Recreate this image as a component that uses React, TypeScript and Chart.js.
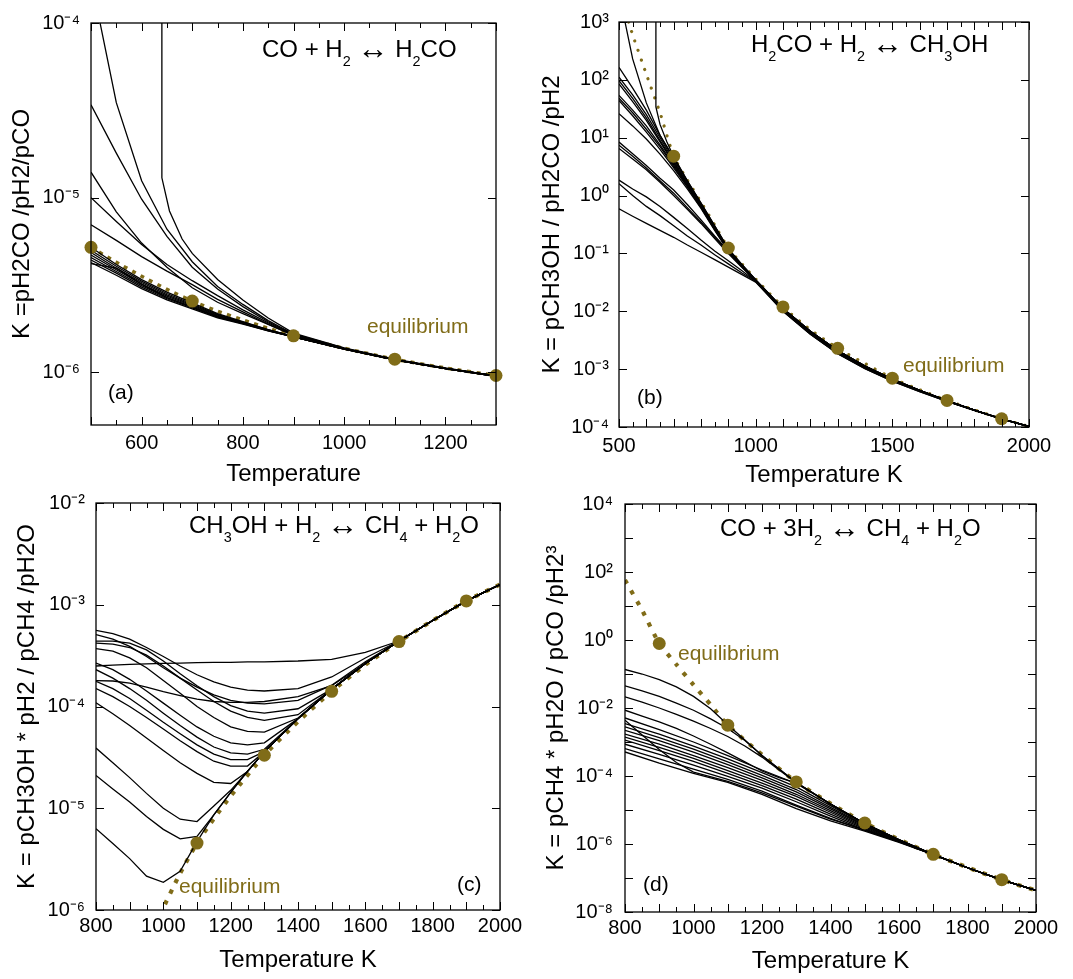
import React, { useEffect, useRef } from 'react';
import { Chart, registerables } from 'chart.js';

Chart.register(...registerables);

const FONT = "'Liberation Sans', Arial, Helvetica, sans-serif";
const OLIVE = '#806c18';

// ---------------- Panel (a): CO + H2 <-> H2CO ----------------
const aT = [500, 550, 600, 650, 700, 750, 800, 850, 900, 1000, 1100, 1200, 1300];
const aEqK = [5.2e-6, 4.27e-6, 3.55e-6, 2.99e-6, 2.56e-6, 2.24e-6, 2.0e-6, 1.79e-6, 1.62e-6, 1.375e-6, 1.19e-6, 1.06e-6, 0.96e-6];
const aDotT = [500, 700, 900, 1100, 1300];
const aDotK = [5.2e-6, 2.56e-6, 1.62e-6, 1.19e-6, 0.96e-6];
const aVT = [640, 640, 655, 680, 700, 750, 800, 850, 900, 1000, 1100, 1200, 1300];
const aVK = [3e-4, 1.3e-5, 8.4e-6, 5.8e-6, 4.8e-6, 3.4e-6, 2.6e-6, 2.05e-6, 1.68e-6, 1.38e-6, 1.19e-6, 1.06e-6, 0.955e-6];
const aK1 = [1.8e-4, 3.5e-5, 1.25e-5, 6.6e-6, 4.3e-6, 3.1e-6, 2.45e-6, 1.98e-6, 1.66e-6, 1.375e-6, 1.185e-6, 1.055e-6, 0.955e-6];
const aK2 = [3.4e-5, 1.8e-5, 9.8e-6, 6.0e-6, 4.0e-6, 3.0e-6, 2.38e-6, 1.95e-6, 1.65e-6, 1.37e-6, 1.185e-6, 1.055e-6, 0.955e-6];
const aK3 = [1.4e-5, 8.3e-6, 5.5e-6, 4.0e-6, 3.05e-6, 2.52e-6, 2.17e-6, 1.88e-6, 1.63e-6, 1.37e-6, 1.185e-6, 1.055e-6, 0.955e-6];
const aK4 = [1.0e-5, 7.3e-6, 5.4e-6, 4.15e-6, 3.35e-6, 2.75e-6, 2.28e-6, 1.92e-6, 1.64e-6, 1.37e-6, 1.185e-6, 1.055e-6, 0.955e-6];
const aK5 = [7.0e-6, 5.7e-6, 4.6e-6, 3.8e-6, 3.18e-6, 2.62e-6, 2.22e-6, 1.89e-6, 1.63e-6, 1.37e-6, 1.185e-6, 1.055e-6, 0.955e-6];
const aC1 = [5.2e-6, 4.15e-6, 3.4e-6, 2.88e-6, 2.5e-6, 2.17e-6, 1.95e-6, 1.76e-6, 1.61e-6, 1.37e-6, 1.185e-6, 1.055e-6, 0.955e-6];
const aC2 = [5.0e-6, 4.05e-6, 3.33e-6, 2.83e-6, 2.46e-6, 2.15e-6, 1.94e-6, 1.75e-6, 1.61e-6, 1.37e-6, 1.185e-6, 1.055e-6, 0.955e-6];
const aC3 = [4.85e-6, 3.95e-6, 3.27e-6, 2.78e-6, 2.43e-6, 2.13e-6, 1.93e-6, 1.75e-6, 1.6e-6, 1.365e-6, 1.18e-6, 1.05e-6, 0.95e-6];
const aC4 = [4.7e-6, 3.87e-6, 3.2e-6, 2.73e-6, 2.4e-6, 2.11e-6, 1.92e-6, 1.74e-6, 1.6e-6, 1.365e-6, 1.18e-6, 1.05e-6, 0.95e-6];
const aC5 = [4.55e-6, 3.78e-6, 3.14e-6, 2.68e-6, 2.37e-6, 2.09e-6, 1.91e-6, 1.74e-6, 1.6e-6, 1.36e-6, 1.18e-6, 1.05e-6, 0.95e-6];
const aC6 = [4.4e-6, 3.7e-6, 3.08e-6, 2.64e-6, 2.34e-6, 2.07e-6, 1.9e-6, 1.73e-6, 1.6e-6, 1.36e-6, 1.18e-6, 1.05e-6, 0.95e-6];
const aC7 = [4.25e-6, 3.6e-6, 3.02e-6, 2.6e-6, 2.31e-6, 2.05e-6, 1.89e-6, 1.73e-6, 1.6e-6, 1.36e-6, 1.18e-6, 1.05e-6, 0.95e-6];
const aC8 = [4.2e-6, 3.95e-6, 3.2e-6, 2.68e-6, 2.36e-6, 2.08e-6, 1.91e-6, 1.74e-6, 1.6e-6, 1.36e-6, 1.18e-6, 1.05e-6, 0.95e-6];
const aXLabels = [600, 800, 1000, 1200];
const aYLabels = [1e-6, 1e-5, 1e-4];

// ---------------- Panel (b): H2CO + H2 <-> CH3OH ----------------
const bT = [500, 550, 600, 650, 700, 750, 800, 850, 900, 950, 1000, 1100, 1200, 1300, 1400, 1500, 1600, 1700, 1800, 1900, 2000];
const bEqT = [535, 550, 600, 650, 700, 750, 800, 850, 900, 1000, 1100, 1200, 1300, 1400, 1500, 1600, 1700, 1800, 1900, 2000];
const bEqK = [1000, 600, 125, 27, 4.8, 1.85, 0.77, 0.31, 0.124, 0.036, 0.0119, 4.8e-3, 2.29e-3, 1.25e-3, 6.97e-4, 4.4e-4, 2.88e-4, 1.98e-4, 1.39e-4, 1.02e-4];
const bDotT = [700, 900, 1100, 1300, 1500, 1700, 1900];
const bDotK = [4.8, 0.124, 0.0119, 2.29e-3, 6.97e-4, 2.88e-4, 1.39e-4];
const bST = [515, 522, 550, 600, 650, 700, 750, 800, 850, 900, 950, 1000, 1100, 1200, 1300, 1400, 1500, 1600, 1700, 1800, 1900, 2000];
const bSK = [2000, 1000, 230, 40, 11, 4.6, 1.8, 0.74, 0.3, 0.12, 0.064, 0.035, 0.0112, 4.5e-3, 2.1e-3, 1.13e-3, 6.7e-4, 4.3e-4, 2.85e-4, 1.96e-4, 1.385e-4, 1.02e-4];
const bVT = [635, 635, 650, 675, 700, 750, 800, 850, 900, 950, 1000, 1100, 1200, 1300, 1400, 1500, 1600, 1700, 1800, 1900, 2000];
const bVK = [5000, 34, 17, 8.5, 4.7, 1.8, 0.74, 0.3, 0.12, 0.064, 0.035, 0.0112, 4.5e-3, 2.1e-3, 1.13e-3, 6.7e-4, 4.3e-4, 2.85e-4, 1.96e-4, 1.385e-4, 1.02e-4];
const bG1 = [164, 72, 30, 11, 4.3, 1.75, 0.72, 0.29, 0.118, 0.063, 0.034, 0.0112, 4.5e-3, 2.1e-3, 1.13e-3, 6.7e-4, 4.3e-4, 2.85e-4, 1.96e-4, 1.385e-4, 1.02e-4];
const bG2 = [111, 55, 25, 10, 4.0, 1.65, 0.7, 0.28, 0.116, 0.062, 0.034, 0.0108, 4.4e-3, 2.05e-3, 1.1e-3, 6.5e-4, 4.25e-4, 2.82e-4, 1.95e-4, 1.38e-4, 1.02e-4];
const bG3 = [97, 48, 22, 9, 3.8, 1.6, 0.68, 0.28, 0.115, 0.062, 0.034, 0.0112, 4.5e-3, 2.1e-3, 1.13e-3, 6.7e-4, 4.3e-4, 2.85e-4, 1.96e-4, 1.385e-4, 1.02e-4];
const bG4 = [85, 42, 20, 8.5, 3.6, 1.55, 0.66, 0.27, 0.114, 0.061, 0.034, 0.0108, 4.4e-3, 2.05e-3, 1.1e-3, 6.5e-4, 4.25e-4, 2.82e-4, 1.95e-4, 1.38e-4, 1.02e-4];
const bG5 = [54, 30, 16, 7.5, 3.4, 1.5, 0.64, 0.27, 0.113, 0.061, 0.033, 0.0112, 4.5e-3, 2.1e-3, 1.13e-3, 6.7e-4, 4.3e-4, 2.85e-4, 1.96e-4, 1.385e-4, 1.02e-4];
const bG6 = [48, 27, 14, 7, 3.2, 1.45, 0.63, 0.26, 0.112, 0.06, 0.033, 0.0108, 4.4e-3, 2.05e-3, 1.1e-3, 6.5e-4, 4.25e-4, 2.82e-4, 1.95e-4, 1.38e-4, 1.02e-4];
const bG7 = [44, 24, 12.5, 6.3, 3.0, 1.4, 0.62, 0.26, 0.111, 0.06, 0.033, 0.0112, 4.5e-3, 2.1e-3, 1.13e-3, 6.7e-4, 4.3e-4, 2.85e-4, 1.96e-4, 1.385e-4, 1.02e-4];
const bG8 = [26, 16, 9.5, 5.2, 2.7, 1.3, 0.6, 0.25, 0.11, 0.06, 0.033, 0.0108, 4.4e-3, 2.05e-3, 1.1e-3, 6.5e-4, 4.25e-4, 2.82e-4, 1.95e-4, 1.38e-4, 1.02e-4];
const bH1 = [8.4, 5.3, 3.3, 2.0, 1.25, 0.7, 0.38, 0.2, 0.11, 0.06, 0.034, 0.0108, 4.4e-3, 2.05e-3, 1.1e-3, 6.5e-4, 4.25e-4, 2.82e-4, 1.95e-4, 1.38e-4, 1.02e-4];
const bH2 = [7.4, 4.8, 3.0, 1.8, 1.1, 0.62, 0.35, 0.19, 0.105, 0.058, 0.034, 0.0104, 4.2e-3, 1.95e-3, 1.06e-3, 6.35e-4, 4.2e-4, 2.8e-4, 1.94e-4, 1.375e-4, 1.02e-4];
const bH3 = [6.5, 4.3, 2.8, 1.7, 1.0, 0.58, 0.33, 0.18, 0.1, 0.057, 0.034, 0.0108, 4.4e-3, 2.05e-3, 1.1e-3, 6.5e-4, 4.25e-4, 2.82e-4, 1.95e-4, 1.38e-4, 1.02e-4];
const bL1 = [1.85, 1.3, 0.95, 0.65, 0.42, 0.27, 0.17, 0.11, 0.075, 0.05, 0.033, 0.01, 4.0e-3, 1.85e-3, 1.02e-3, 6.2e-4, 4.1e-4, 2.78e-4, 1.93e-4, 1.37e-4, 1.02e-4];
const bL2 = [1.6, 1.0, 0.65, 0.45, 0.3, 0.2, 0.14, 0.095, 0.066, 0.046, 0.033, 0.0104, 4.2e-3, 1.95e-3, 1.06e-3, 6.35e-4, 4.2e-4, 2.8e-4, 1.94e-4, 1.375e-4, 1.02e-4];
const bL3 = [0.59, 0.44, 0.33, 0.25, 0.19, 0.14, 0.105, 0.078, 0.058, 0.043, 0.032, 0.01, 4.0e-3, 1.85e-3, 1.02e-3, 6.2e-4, 4.1e-4, 2.78e-4, 1.93e-4, 1.37e-4, 1.02e-4];
const bXLabels = [500, 1000, 1500, 2000];
const bYLabels = [1e-4, 1e-3, 1e-2, 1e-1, 1, 10, 100, 1000];

// ---------------- Panel (c): CH3OH + H2 <-> CH4 + H2O ----------------
const cT = [800, 850, 900, 950, 1000, 1050, 1100, 1150, 1200, 1250, 1300, 1400, 1500, 1600, 1700, 1800, 1900, 2000];
const cEqT = [990, 1050, 1100, 1150, 1200, 1300, 1400, 1500, 1600, 1700, 1800, 1900, 2000];
const cEqK = [9.0e-7, 2.3e-6, 4.55e-6, 7.9e-6, 1.32e-5, 3.32e-5, 7.1e-5, 1.41e-4, 2.57e-4, 4.35e-4, 7.0e-4, 1.09e-3, 1.58e-3];
const cDotT = [1100, 1300, 1500, 1700, 1900];
const cDotK = [4.55e-6, 3.32e-5, 1.41e-4, 4.35e-4, 1.09e-3];
const cK1 = [2.5e-4, 2.55e-4, 2.6e-4, 2.62e-4, 2.65e-4, 2.67e-4, 2.7e-4, 2.71e-4, 2.72e-4, 2.74e-4, 2.75e-4, 2.8e-4, 2.9e-4, 3.4e-4, 4.4e-4, 7.0e-4, 1.09e-3, 1.58e-3];
const cK2 = [5.6e-4, 5.2e-4, 4.6e-4, 3.8e-4, 3.1e-4, 2.5e-4, 2.05e-4, 1.75e-4, 1.55e-4, 1.45e-4, 1.42e-4, 1.5e-4, 1.95e-4, 3.0e-4, 4.4e-4, 7.0e-4, 1.09e-3, 1.58e-3];
const cK3 = [5.1e-4, 4.6e-4, 3.9e-4, 3.1e-4, 2.4e-4, 1.9e-4, 1.55e-4, 1.3e-4, 1.15e-4, 1.08e-4, 1.06e-4, 1.15e-4, 1.62e-4, 2.75e-4, 4.4e-4, 7.0e-4, 1.09e-3, 1.58e-3];
const cK4 = [4.4e-4, 4.4e-4, 4.2e-4, 3.6e-4, 2.8e-4, 2.1e-4, 1.6e-4, 1.25e-4, 1.02e-4, 9.0e-5, 8.6e-5, 9.5e-5, 1.48e-4, 2.65e-4, 4.4e-4, 7.0e-4, 1.09e-3, 1.58e-3];
const cK5 = [4.2e-4, 4.1e-4, 3.8e-4, 3.2e-4, 2.5e-4, 1.9e-4, 1.45e-4, 1.12e-4, 9.0e-5, 7.8e-5, 7.3e-5, 8.3e-5, 1.48e-4, 2.65e-4, 4.4e-4, 7.0e-4, 1.09e-3, 1.58e-3];
const cK6 = [3.7e-4, 3.5e-4, 3.0e-4, 2.4e-4, 1.8e-4, 1.35e-4, 1.0e-4, 7.8e-5, 6.3e-5, 5.7e-5, 5.6e-5, 7.7e-5, 1.48e-4, 2.65e-4, 4.4e-4, 7.0e-4, 1.09e-3, 1.58e-3];
const cK7 = [2.67e-4, 2.3e-4, 1.85e-4, 1.42e-4, 1.08e-4, 8.2e-5, 6.3e-5, 5.1e-5, 4.4e-5, 4.2e-5, 4.4e-5, 7.6e-5, 1.48e-4, 2.65e-4, 4.4e-4, 7.0e-4, 1.09e-3, 1.58e-3];
const cK8 = [2.3e-4, 1.9e-4, 1.5e-4, 1.15e-4, 8.6e-5, 6.5e-5, 5.0e-5, 4.0e-5, 3.5e-5, 3.4e-5, 3.8e-5, 7.6e-5, 1.48e-4, 2.65e-4, 4.4e-4, 7.0e-4, 1.09e-3, 1.58e-3];
const cK9 = [1.8e-4, 1.78e-4, 1.7e-4, 1.55e-4, 1.4e-4, 1.28e-4, 1.18e-4, 1.12e-4, 1.1e-4, 1.1e-4, 1.12e-4, 1.25e-4, 1.6e-4, 2.65e-4, 4.4e-4, 7.0e-4, 1.09e-3, 1.58e-3];
const cK10 = [1.77e-4, 1.5e-4, 1.2e-4, 9.2e-5, 7.0e-5, 5.4e-5, 4.2e-5, 3.4e-5, 3.0e-5, 3.0e-5, 3.6e-5, 7.6e-5, 1.48e-4, 2.65e-4, 4.4e-4, 7.0e-4, 1.09e-3, 1.58e-3];
const cK11 = [1.5e-4, 1.25e-4, 1.0e-4, 7.8e-5, 6.0e-5, 4.6e-5, 3.6e-5, 2.9e-5, 2.6e-5, 2.6e-5, 3.6e-5, 7.6e-5, 1.48e-4, 2.65e-4, 4.4e-4, 7.0e-4, 1.09e-3, 1.58e-3];
const cK12 = [1.09e-4, 8.5e-5, 6.5e-5, 4.9e-5, 3.7e-5, 2.8e-5, 2.2e-5, 1.8e-5, 1.75e-5, 2.3e-5, 3.6e-5, 7.6e-5, 1.48e-4, 2.65e-4, 4.4e-4, 7.0e-4, 1.09e-3, 1.58e-3];
const cK13 = [3.9e-5, 2.8e-5, 2.0e-5, 1.4e-5, 1.0e-5, 7.8e-6, 7.4e-6, 1.05e-5, 1.5e-5, 2.3e-5, 3.6e-5, 7.6e-5, 1.48e-4, 2.65e-4, 4.4e-4, 7.0e-4, 1.09e-3, 1.58e-3];
const cK14 = [2.1e-5, 1.55e-5, 1.15e-5, 8.3e-6, 6.2e-6, 5.0e-6, 5.3e-6, 8.6e-6, 1.43e-5, 2.3e-5, 3.6e-5, 7.6e-5, 1.48e-4, 2.65e-4, 4.4e-4, 7.0e-4, 1.09e-3, 1.58e-3];
const cK15 = [6.3e-6, 4.5e-6, 3.2e-6, 2.15e-6, 1.87e-6, 2.4e-6, 4.7e-6, 8.6e-6, 1.43e-5, 2.3e-5, 3.6e-5, 7.6e-5, 1.48e-4, 2.65e-4, 4.4e-4, 7.0e-4, 1.09e-3, 1.58e-3];
const cXLabels = [800, 1000, 1200, 1400, 1600, 1800, 2000];
const cYLabels = [1e-6, 1e-5, 1e-4, 1e-3, 1e-2];

// ---------------- Panel (d): CO + 3H2 <-> CH4 + H2O ----------------
const dEqT = [800, 850, 900, 950, 1000, 1050, 1100, 1200, 1300, 1400, 1500, 1600, 1700, 1800, 1900, 2000];
const dEqK = [58, 7.5, 0.79, 0.19, 0.048, 0.0125, 3.12e-3, 4.2e-4, 6.7e-5, 1.55e-5, 4.15e-6, 1.35e-6, 4.96e-7, 2.04e-7, 8.9e-8, 4.3e-8];
const dDotT = [900, 1100, 1300, 1500, 1700, 1900];
const dDotK = [0.79, 3.12e-3, 6.7e-5, 4.15e-6, 4.96e-7, 8.9e-8];
const dT1 = [800, 850, 900, 950, 1000, 1050, 1100, 1150, 1200, 1250, 1300, 1400, 1500, 1600, 1700, 1800, 1900, 2000];
const dK1 = [0.136, 0.1, 0.068, 0.042, 0.022, 9.5e-3, 3.2e-3, 1.15e-3, 4.0e-4, 1.6e-4, 6.4e-5, 1.5e-5, 4.0e-6, 1.33e-6, 4.9e-7, 2.0e-7, 8.8e-8, 4.3e-8];
const dK2 = [0.045, 0.032, 0.022, 0.014, 8.6e-3, 4.8e-3, 2.5e-3, 1.1e-3, 4.0e-4, 1.6e-4, 6.4e-5, 1.5e-5, 4.0e-6, 1.33e-6, 4.9e-7, 2.0e-7, 8.8e-8, 4.3e-8];
const dK3 = [0.0213, 0.015, 0.01, 6.5e-3, 4.1e-3, 2.5e-3, 1.45e-3, 7.6e-4, 3.6e-4, 1.5e-4, 6.4e-5, 1.5e-5, 4.0e-6, 1.33e-6, 4.9e-7, 2.0e-7, 8.8e-8, 4.3e-8];
const dK4 = [8.6e-3, 5.8e-3, 3.9e-3, 2.5e-3, 1.5e-3, 8.6e-4, 4.8e-4, 2.6e-4, 1.4e-4, 9.0e-5, 6.2e-5, 1.5e-5, 4.0e-6, 1.33e-6, 4.9e-7, 2.0e-7, 8.8e-8, 4.3e-8];
const dT2 = [800, 900, 1000, 1100, 1200, 1300, 1400, 1500, 1600, 1700, 1800, 1900, 2000];
const dK5 = [5.1e-3, 2.3e-3, 1.0e-3, 4.0e-4, 1.5e-4, 6.0e-5, 1.5e-5, 4.0e-6, 1.35e-6, 5.0e-7, 2.0e-7, 8.8e-8, 4.3e-8];
const dK7 = [3.5e-3, 1.7e-3, 7.6e-4, 3.2e-4, 1.25e-4, 4.8e-5, 1.35e-5, 3.8e-6, 1.33e-6, 5.0e-7, 2.0e-7, 8.8e-8, 4.3e-8];
const dK8 = [2.8e-3, 1.35e-3, 6.2e-4, 2.6e-4, 1.05e-4, 4.0e-5, 1.2e-5, 3.6e-6, 1.3e-6, 5.0e-7, 2.0e-7, 8.8e-8, 4.3e-8];
const dK9 = [2.2e-3, 1.1e-3, 5.0e-4, 2.15e-4, 8.8e-5, 3.4e-5, 1.08e-5, 3.4e-6, 1.28e-6, 5.0e-7, 2.0e-7, 8.8e-8, 4.3e-8];
const dK10 = [1.7e-3, 8.6e-4, 4.0e-4, 1.75e-4, 7.4e-5, 2.9e-5, 9.6e-6, 3.2e-6, 1.25e-6, 5.0e-7, 2.0e-7, 8.8e-8, 4.3e-8];
const dK11 = [1.4e-3, 7.0e-4, 3.3e-4, 1.45e-4, 6.2e-5, 2.5e-5, 8.6e-6, 3.0e-6, 1.22e-6, 5.0e-7, 2.0e-7, 8.8e-8, 4.3e-8];
const dK12 = [1.13e-3, 5.6e-4, 2.7e-4, 1.2e-4, 5.2e-5, 2.1e-5, 7.6e-6, 2.8e-6, 1.2e-6, 4.9e-7, 2.0e-7, 8.8e-8, 4.3e-8];
const dK13 = [8.6e-4, 4.3e-4, 2.1e-4, 9.8e-5, 4.4e-5, 1.75e-5, 6.6e-6, 2.6e-6, 1.17e-6, 4.9e-7, 2.0e-7, 8.8e-8, 4.3e-8];
const dK14 = [6.4e-4, 3.2e-4, 1.6e-4, 8.0e-5, 3.6e-5, 1.4e-5, 5.7e-6, 2.5e-6, 1.15e-6, 4.9e-7, 2.0e-7, 8.8e-8, 4.3e-8];
const dK15 = [5.1e-4, 2.4e-4, 1.2e-4, 6.5e-5, 2.9e-5, 1.1e-5, 4.8e-6, 2.4e-6, 1.12e-6, 4.9e-7, 2.0e-7, 8.8e-8, 4.3e-8];
const dT3 = [800, 850, 900, 950, 1000, 1100, 1200, 1300, 1400, 1500, 1600, 1700, 1800, 1900, 2000];
const dK6 = [4.4e-3, 1.6e-3, 6.0e-4, 2.5e-4, 1.3e-4, 7.0e-5, 3.2e-5, 1.3e-5, 5.4e-6, 2.6e-6, 1.18e-6, 4.9e-7, 2.0e-7, 8.8e-8, 4.3e-8];
const dXLabels = [800, 1000, 1200, 1400, 1600, 1800, 2000];
const dYLabels = [1e-8, 1e-6, 1e-4, 1e-2, 1, 100, 1e4];
const dYMarks = [1e-8, 1e-7, 1e-6, 1e-5, 1e-4, 1e-3, 1e-2, 1e-1, 1, 10, 100, 1000, 1e4];

// ---------------- helpers ----------------
type Series = { x: number[]; y: number[] };
const S = (x: number[], y: number[]): Series => ({ x, y });

const SUP: Record<string, string> = { '-': '\u207B', '0': '\u2070', '1': '\u00B9', '2': '\u00B2', '3': '\u00B3', '4': '\u2074', '5': '\u2075', '6': '\u2076', '7': '\u2077', '8': '\u2078', '9': '\u2079' };
const pow10Label = (v: number) => {
  const e = Math.round(Math.log10(v));
  return '10' + String(e).split('').map((c) => SUP[c]).join('');
};

interface Spec {
  left: number; top: number; w: number; h: number;
  area: { l: number; t: number; r: number; b: number };
  xMin: number; xMax: number; xLabels: number[]; xMinor: number; xMajor: number; xPad: number;
  yMin: number; yMax: number; yLabels: number[]; yMarks: number[]; yPad: number;
  xTitle: string; yTitle: string; xTitlePad: number; yTitlePad: number;
  lines: Series[]; eq: Series; dots: Series;
  eqWidth: number; eqDash: number[]; eqCap: 'butt' | 'round';
  reaction: string; reactionAt: [number, number];
  eqLabelAt: [number, number]; letter: string; letterAt: [number, number];
}

const PANELS: Spec[] = [
  {
    left: 0, top: 0, w: 540, h: 500, area: { l: 91, t: 16, r: 496, b: 425 },
    xMin: 500, xMax: 1300, xLabels: aXLabels, xMinor: 50, xMajor: 100, xPad: 6,
    yMin: 5e-7, yMax: 1e-4, yLabels: aYLabels, yMarks: aYLabels, yPad: 11,
    xTitle: 'Temperature', yTitle: 'K =pH2CO /pH2/pCO', xTitlePad: 14, yTitlePad: 10.5,
    lines: [S(aVT, aVK), S(aT, aK1), S(aT, aK2), S(aT, aK3), S(aT, aK4), S(aT, aK5), S(aT, aC1), S(aT, aC2), S(aT, aC3), S(aT, aC4), S(aT, aC5), S(aT, aC6), S(aT, aC7), S(aT, aC8)],
    eq: S(aT, aEqK), dots: S(aDotT, aDotK), eqWidth: 3.5, eqDash: [4, 5.5], eqCap: 'butt',
    reaction: 'CO + H_2 \u2194 H_2CO', reactionAt: [262, 57], eqLabelAt: [367, 333], letter: '(a)', letterAt: [108, 393],
  },
  {
    left: 540, top: 0, w: 533, h: 500, area: { l: 79, t: 19, r: 489, b: 427 },
    xMin: 500, xMax: 2000, xLabels: bXLabels, xMinor: 50, xMajor: 100, xPad: 7.5,
    yMin: 1e-4, yMax: 1e3, yLabels: bYLabels, yMarks: bYLabels, yPad: 10,
    xTitle: 'Temperature K', yTitle: 'K = pCH3OH / pH2CO /pH2', xTitlePad: 12.5, yTitlePad: 0,
    lines: [S(bST, bSK), S(bVT, bVK), S(bT, bG1), S(bT, bG2), S(bT, bG3), S(bT, bG4), S(bT, bG5), S(bT, bG6), S(bT, bG7), S(bT, bG8), S(bT, bH1), S(bT, bH2), S(bT, bH3), S(bT, bL1), S(bT, bL2), S(bT, bL3)],
    eq: S(bEqT, bEqK), dots: S(bDotT, bDotK), eqWidth: 3.2, eqDash: [0.01, 10], eqCap: 'round',
    reaction: 'H_2CO + H_2 \u2194 CH_3OH', reactionAt: [211, 52], eqLabelAt: [363, 372], letter: '(b)', letterAt: [97, 398],
  },
  {
    left: 0, top: 480, w: 540, h: 499, area: { l: 96, t: 21, r: 500, b: 430 },
    xMin: 800, xMax: 2000, xLabels: cXLabels, xMinor: 50, xMajor: 100, xPad: 4,
    yMin: 1e-6, yMax: 1e-2, yLabels: cYLabels, yMarks: cYLabels, yPad: 11,
    xTitle: 'Temperature K', yTitle: 'K = pCH3OH * pH2 / pCH4 /pH2O', xTitlePad: 7, yTitlePad: 15,
    lines: [S(cT, cK1), S(cT, cK2), S(cT, cK3), S(cT, cK4), S(cT, cK5), S(cT, cK6), S(cT, cK7), S(cT, cK8), S(cT, cK9), S(cT, cK10), S(cT, cK11), S(cT, cK12), S(cT, cK13), S(cT, cK14), S(cT, cK15)],
    eq: S(cEqT, cEqK), dots: S(cDotT, cDotK), eqWidth: 4.2, eqDash: [4.2, 7.5], eqCap: 'butt',
    reaction: 'CH_3OH + H_2 \u2194 CH_4 + H_2O', reactionAt: [189, 53], eqLabelAt: [179, 413], letter: '(c)', letterAt: [457, 405],
  },
  {
    left: 540, top: 480, w: 533, h: 499, area: { l: 85, t: 24, r: 496, b: 432 },
    xMin: 800, xMax: 2000, xLabels: dXLabels, xMinor: 50, xMajor: 100, xPad: 4.5,
    yMin: 1e-8, yMax: 1e4, yLabels: dYLabels, yMarks: dYMarks, yPad: 12,
    xTitle: 'Temperature K', yTitle: 'K = pCH4 * pH2O / pCO /pH2\u00B3', xTitlePad: 6, yTitlePad: 4,
    lines: [S(dT1, dK1), S(dT1, dK2), S(dT1, dK3), S(dT1, dK4), S(dT2, dK5), S(dT3, dK6), S(dT2, dK7), S(dT2, dK8), S(dT2, dK9), S(dT2, dK10), S(dT2, dK11), S(dT2, dK12), S(dT2, dK13), S(dT2, dK14), S(dT2, dK15)],
    eq: S(dEqT, dEqK), dots: S(dDotT, dDotK), eqWidth: 4.2, eqDash: [4.2, 8], eqCap: 'butt',
    reaction: 'CO + 3H_2 \u2194 CH_4 + H_2O', reactionAt: [180, 56], eqLabelAt: [138, 180], letter: '(d)', letterAt: [103, 405],
  },
];

function drawRich(ctx: CanvasRenderingContext2D, text: string, x: number, y: number, size: number) {
  let cx = x;
  let i = 0;
  ctx.textAlign = 'left';
  ctx.textBaseline = 'alphabetic';
  while (i < text.length) {
    let sub = false;
    let ch = text[i];
    if (ch === '_') { sub = true; ch = text[i + 1]; i += 2; } else { i += 1; }
    let dy = 0;
    if (ch === '\u2194') {
      ctx.font = `${size * 1.3}px ${FONT}`;
      dy = 2;
    } else {
      ctx.font = `${sub ? size * 0.6 : size}px ${FONT}`;
      if (sub) dy = size * 0.38;
    }
    ctx.fillText(ch, cx, y + dy);
    cx += ctx.measureText(ch).width;
  }
}

function makeFramePlugin(p: Spec) {
  return {
    id: 'frame',
    afterDraw(chart: any) {
      const ctx: CanvasRenderingContext2D = chart.ctx;
      const ca = chart.chartArea;
      const xs = chart.scales.x;
      const ys = chart.scales.y;
      ctx.save();
      ctx.strokeStyle = '#000';
      ctx.lineWidth = 1.3;
      ctx.strokeRect(ca.left, ca.top, ca.right - ca.left, ca.bottom - ca.top);
      ctx.lineWidth = 1;
      ctx.beginPath();
      const n = Math.round((p.xMax - p.xMin) / p.xMinor);
      for (let k = 0; k <= n; k++) {
        const t = p.xMin + k * p.xMinor;
        const px = Math.round(xs.getPixelForValue(t)) + 0.5;
        const major = Math.abs(t / p.xMajor - Math.round(t / p.xMajor)) < 1e-6;
        const len = major ? 8 : 5;
        ctx.moveTo(px, ca.bottom); ctx.lineTo(px, ca.bottom - len);
        ctx.moveTo(px, ca.top); ctx.lineTo(px, ca.top + len);
      }
      for (const v of p.yMarks) {
        const py = Math.round(ys.getPixelForValue(v)) + 0.5;
        ctx.moveTo(ca.left, py); ctx.lineTo(ca.left + 8, py);
        ctx.moveTo(ca.right, py); ctx.lineTo(ca.right - 8, py);
      }
      ctx.stroke();

      ctx.fillStyle = '#000';
      drawRich(ctx, p.reaction, p.reactionAt[0], p.reactionAt[1], 24);

      ctx.fillStyle = OLIVE;
      ctx.font = `21px ${FONT}`;
      ctx.textAlign = 'left';
      ctx.textBaseline = 'alphabetic';
      ctx.fillText('equilibrium', p.eqLabelAt[0], p.eqLabelAt[1]);

      ctx.fillStyle = '#000';
      ctx.textBaseline = 'middle';
      ctx.fillText(p.letter, p.letterAt[0], p.letterAt[1]);
      ctx.restore();
    },
  };
}

function buildConfig(p: Spec): any {
  const pts = (s: Series) => s.x.map((x, i) => ({ x, y: s.y[i] }));
  const datasets: any[] = [
    {
      data: pts(p.dots), showLine: false, pointRadius: 6.5, pointHoverRadius: 6.5,
      pointBackgroundColor: OLIVE, pointBorderColor: OLIVE, pointBorderWidth: 0, clip: false,
    },
    ...p.lines.map((s) => ({
      data: pts(s), borderColor: '#000', borderWidth: 1.3, pointRadius: 0, tension: 0, fill: false,
    })),
    {
      data: pts(p.eq), borderColor: OLIVE, borderWidth: p.eqWidth, borderDash: p.eqDash,
      borderCapStyle: p.eqCap, pointRadius: 0, tension: 0.2, fill: false,
    },
  ];
  return {
    type: 'line',
    data: { datasets },
    plugins: [makeFramePlugin(p)],
    options: {
      animation: false,
      responsive: false,
      devicePixelRatio: 1,
      events: [],
      layout: { padding: { left: 0, top: p.area.t, right: p.w - p.area.r, bottom: 0 } },
      plugins: { legend: { display: false }, tooltip: { enabled: false } },
      scales: {
        x: {
          type: 'linear', position: 'bottom', min: p.xMin, max: p.xMax,
          afterFit: (s: any) => { s.height = p.h - p.area.b; },
          afterBuildTicks: (s: any) => { s.ticks = p.xLabels.map((v) => ({ value: v })); },
          ticks: {
            autoSkip: false, maxRotation: 0, padding: p.xPad, color: '#000',
            font: { size: 20, family: FONT },
            callback: (v: any) => String(v),
          },
          grid: { display: false, drawTicks: false },
          border: { display: false },
          title: {
            display: true, text: p.xTitle, color: '#000',
            font: { size: 24, family: FONT, lineHeight: 1 },
            padding: { top: 0, bottom: p.xTitlePad },
          },
        },
        y: {
          type: 'logarithmic', position: 'left', min: p.yMin, max: p.yMax,
          afterFit: (s: any) => { s.width = p.area.l; },
          afterBuildTicks: (s: any) => { s.ticks = p.yLabels.map((v) => ({ value: v })); },
          ticks: {
            autoSkip: false, padding: p.yPad, color: '#000',
            font: { size: 20, family: FONT },
            callback: (v: any) => pow10Label(Number(v)),
          },
          grid: { display: false, drawTicks: false },
          border: { display: false },
          title: {
            display: true, text: p.yTitle, color: '#000',
            font: { size: 24, family: FONT, lineHeight: 1 },
            padding: { top: p.yTitlePad, bottom: 0 },
          },
        },
      },
    },
  };
}

function Panel({ p }: { p: Spec }) {
  const ref = useRef<HTMLCanvasElement>(null);
  useEffect(() => {
    if (!ref.current) return;
    const chart = new Chart(ref.current, buildConfig(p));
    return () => chart.destroy();
  }, [p]);
  return (
    <canvas
      ref={ref}
      width={p.w}
      height={p.h}
      style={{ position: 'absolute', left: p.left, top: p.top, width: p.w, height: p.h }}
    />
  );
}

export default function App() {
  return (
    <div style={{ position: 'absolute', left: 0, top: 0, width: 1073, height: 979, background: '#fff' }}>
      {PANELS.map((p, i) => (
        <Panel key={i} p={p} />
      ))}
    </div>
  );
}
